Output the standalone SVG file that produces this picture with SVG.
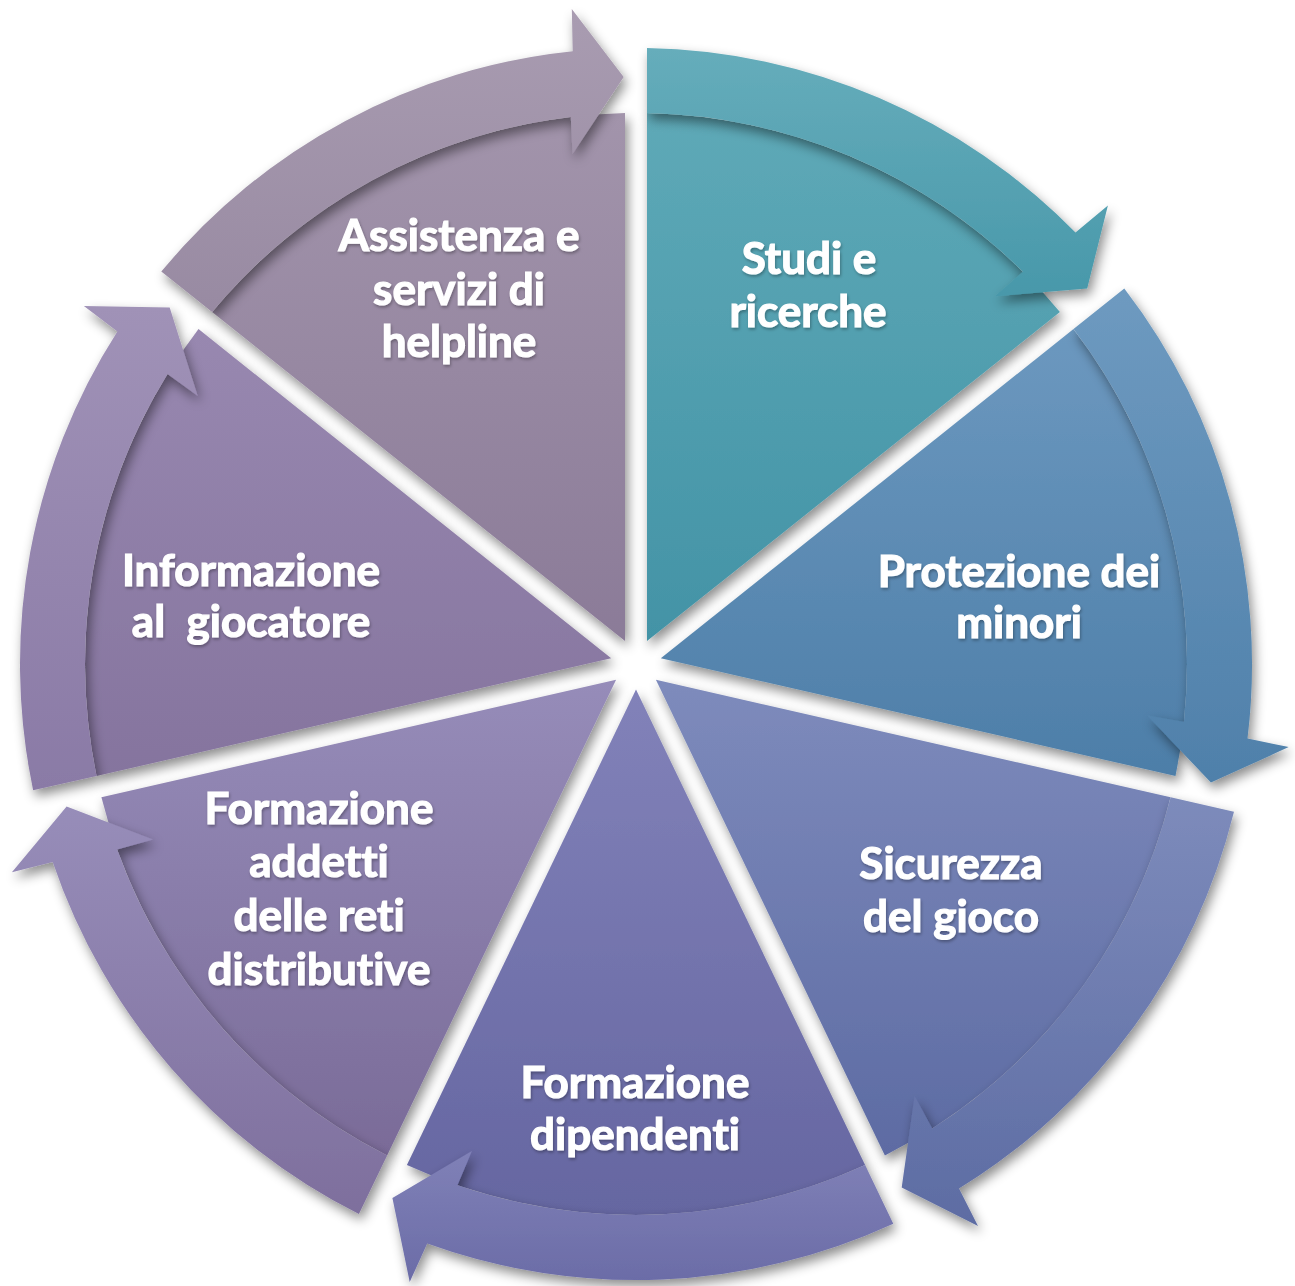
<svg xmlns="http://www.w3.org/2000/svg" width="1295" height="1286" viewBox="0 0 1295 1286">
<defs>
<filter id="sh" x="-20%" y="-20%" width="140%" height="140%">
<feGaussianBlur in="SourceAlpha" stdDeviation="6"/>
<feOffset dx="3" dy="6" result="b"/>
<feFlood flood-color="#000" flood-opacity="0.45"/>
<feComposite in2="b" operator="in" result="s"/>
<feMerge><feMergeNode in="s"/><feMergeNode in="SourceGraphic"/></feMerge>
</filter>
<filter id="tsh" x="-10%" y="-10%" width="120%" height="130%">
<feGaussianBlur in="SourceAlpha" stdDeviation="1.5"/>
<feOffset dx="1" dy="2" result="b"/>
<feFlood flood-color="#000" flood-opacity="0.3"/>
<feComposite in2="b" operator="in" result="s"/>
<feMerge><feMergeNode in="s"/><feMergeNode in="SourceGraphic"/></feMerge>
</filter>
<linearGradient id="w0" x1="0" y1="0" x2="0" y2="1"><stop offset="0" stop-color="#5ea9b7"/><stop offset="1" stop-color="#4393a6"/></linearGradient>
<linearGradient id="b0" x1="0" y1="0" x2="0" y2="1"><stop offset="0" stop-color="#66adbb"/><stop offset="1" stop-color="#4898aa"/></linearGradient>
<linearGradient id="w1" x1="0" y1="0" x2="0" y2="1"><stop offset="0" stop-color="#6c98bf"/><stop offset="1" stop-color="#4d7ea8"/></linearGradient>
<linearGradient id="b1" x1="0" y1="0" x2="0" y2="1"><stop offset="0" stop-color="#6e9ac0"/><stop offset="1" stop-color="#4f80aa"/></linearGradient>
<linearGradient id="w2" x1="0" y1="0" x2="0" y2="1"><stop offset="0" stop-color="#7e8bbc"/><stop offset="1" stop-color="#5d6ba3"/></linearGradient>
<linearGradient id="b2" x1="0" y1="0" x2="0" y2="1"><stop offset="0" stop-color="#7d8bbb"/><stop offset="1" stop-color="#5d6ca3"/></linearGradient>
<linearGradient id="w3" x1="0" y1="0" x2="0" y2="1"><stop offset="0" stop-color="#8282b9"/><stop offset="1" stop-color="#6566a1"/></linearGradient>
<linearGradient id="b3" x1="0" y1="0" x2="0" y2="1"><stop offset="0" stop-color="#8081b7"/><stop offset="1" stop-color="#6b6ca7"/></linearGradient>
<linearGradient id="w4" x1="0" y1="0" x2="0" y2="1"><stop offset="0" stop-color="#968cb9"/><stop offset="1" stop-color="#7a6b98"/></linearGradient>
<linearGradient id="b4" x1="0" y1="0" x2="0" y2="1"><stop offset="0" stop-color="#978db9"/><stop offset="1" stop-color="#7e6f9d"/></linearGradient>
<linearGradient id="w5" x1="0" y1="0" x2="0" y2="1"><stop offset="0" stop-color="#9888b0"/><stop offset="1" stop-color="#85749e"/></linearGradient>
<linearGradient id="b5" x1="0" y1="0" x2="0" y2="1"><stop offset="0" stop-color="#a092b7"/><stop offset="1" stop-color="#8a7aa6"/></linearGradient>
<linearGradient id="w6" x1="0" y1="0" x2="0" y2="1"><stop offset="0" stop-color="#a294ab"/><stop offset="1" stop-color="#8b7b98"/></linearGradient>
<linearGradient id="b6" x1="0" y1="0" x2="0" y2="1"><stop offset="0" stop-color="#a99cb1"/><stop offset="1" stop-color="#988aa2"/></linearGradient>
</defs>
<style>
.wedge{filter:url(#sh);}
.arrow{filter:url(#sh);}
.lbl{font-family:Lato,"Open Sans","Liberation Sans",sans-serif;font-weight:700;font-size:44px;fill:#ffffff;stroke:#ffffff;stroke-width:1.2px;text-anchor:middle;font-variant-ligatures:none;font-feature-settings:"liga" 0;filter:url(#tsh);}
</style>
<rect width="1295" height="1286" fill="#ffffff"/>

<g id="node-studi">
<path class="wedge" fill="url(#w0)" d="M647.0,641.1 L647.0,113.1 A551,551 0 0 1 1059.9,312.0 Z"/>
<text class="lbl" x="809" y="274">Studi e</text>
<text class="lbl" x="808" y="327">ricerche</text>
</g>
<g id="node-protezione">
<path class="wedge" fill="url(#w1)" d="M660.8,658.3 L1073.5,329.0 A551,551 0 0 1 1175.5,775.9 Z"/>
<text class="lbl" x="1019" y="587">Protezione dei</text>
<text class="lbl" x="1019" y="638">minori</text>
</g>
<g id="node-sicurezza">
<path class="wedge" fill="url(#w2)" d="M655.9,679.8 L1170.6,797.3 A551,551 0 0 1 884.9,1155.6 Z"/>
<text class="lbl" x="951" y="879">Sicurezza</text>
<text class="lbl" x="951" y="932">del gioco</text>
</g>
<g id="node-formazione-dipendenti">
<path class="wedge" fill="url(#w3)" d="M636,689.4 L865.1,1165.1 A551,551 0 0 1 406.9,1165.1 Z"/>
<text class="lbl" x="635" y="1098">Formazione</text>
<text class="lbl" x="635" y="1150">dipendenti</text>
</g>
<g id="node-formazione-addetti">
<path class="wedge" fill="url(#w4)" d="M616.1,679.8 L387.1,1155.6 A551,551 0 0 1 101.4,797.3 Z"/>
<text class="lbl" x="319" y="824">Formazione</text>
<text class="lbl" x="319" y="877">addetti</text>
<text class="lbl" x="319" y="931">delle reti</text>
<text class="lbl" x="319" y="985">distributive</text>
</g>
<g id="node-informazione">
<path class="wedge" fill="url(#w5)" d="M611.2,658.3 L96.5,775.9 A551,551 0 0 1 198.5,329.1 Z"/>
<text class="lbl" x="251" y="586">Informazione</text>
<text class="lbl" x="251" y="637" xml:space="preserve">al  giocatore</text>
</g>
<g id="node-assistenza">
<path class="wedge" fill="url(#w6)" d="M625.0,641.1 L212.1,312.0 A551,551 0 0 1 625.0,113.1 Z"/>
<text class="lbl" x="459" y="251">Assistenza e</text>
<text class="lbl" x="459" y="305">servizi di</text>
<text class="lbl" x="459" y="357">helpline</text>
</g>

<g id="connectors">
<path class="arrow" fill="url(#b0)" d="M647.0,48.1 A616,616 0 0 1 1075.5,232.4 L1107.9,205.4 L1087.2,288.6 L995.1,296.2 L1023.0,271.8 A551,551 0 0 0 647.0,113.1 Z"/>
<path class="arrow" fill="url(#b1)" d="M1124.3,288.5 A616,616 0 0 1 1247.5,738.6 L1288.7,747.1 L1210.9,782.6 L1147.4,715.6 L1183.9,722.1 A551,551 0 0 0 1073.5,329.0 Z"/>
<path class="arrow" fill="url(#b2)" d="M1234.0,811.8 A616,616 0 0 1 959.0,1188.6 L978.0,1226.1 L901.7,1187.4 L914.6,1096.0 L932.2,1128.6 A551,551 0 0 0 1170.6,797.3 Z"/>
<path class="arrow" fill="url(#b3)" d="M893.3,1223.7 A616,616 0 0 1 427.2,1243.5 L409.7,1281.9 L392.4,1198.1 L471.9,1151.1 L457.4,1185.2 A551,551 0 0 0 865.1,1165.1 Z"/>
<path class="arrow" fill="url(#b4)" d="M358.9,1214.1 A616,616 0 0 1 52.7,862.0 L11.9,872.3 L66.6,806.6 L152.9,839.5 L117.1,849.4 A551,551 0 0 0 387.1,1155.6 Z"/>
<path class="arrow" fill="url(#b5)" d="M33.1,790.3 A616,616 0 0 1 117.4,331.5 L83.9,306.0 L169.7,307.5 L197.6,395.7 L167.5,373.9 A551,551 0 0 0 96.5,775.9 Z"/>
<path class="arrow" fill="url(#b6)" d="M161.3,271.5 A616,616 0 0 1 572.7,51.3 L571.8,9.1 L623.7,77.1 L572.5,153.9 L570.8,116.9 A551,551 0 0 0 212.1,312.0 Z"/>
</g>
</svg>
